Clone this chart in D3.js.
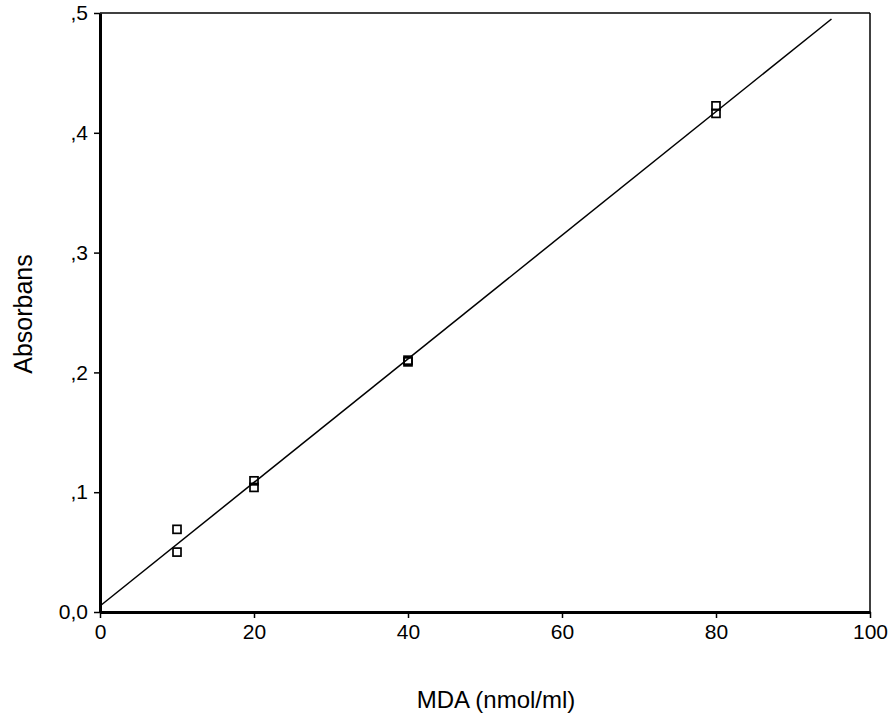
<!DOCTYPE html>
<html>
<head>
<meta charset="utf-8">
<script src="https://cdn.jsdelivr.net/npm/d3@7"></script>
<style>
  body { margin: 0; background: #fff; }
  text { font-family: "Liberation Sans", Arial, sans-serif; fill: #000; }
</style>
</head>
<body>
<div id="chart"></div>
<script>
// data
const mdaValues = [10, 10, 20, 20, 40, 40, 80, 80];
const absorbValues = [0.069, 0.050, 0.1095, 0.104, 0.2102, 0.2088, 0.4225, 0.4162];
const fitX = [0, 95];
const fitY = [0.005, 0.495];
const xTicks = [0, 20, 40, 60, 80, 100];
const yTicks = [0, 0.1, 0.2, 0.3, 0.4, 0.5];
const yTickLabels = ["0,0", ",1", ",2", ",3", ",4", ",5"];

function draw() {
  const dimensions = {
    width: 891,
    height: 722,
    margin: { top: 13, left: 100, right: 21, bottom: 110 },
    dotSize: 8,
  };
  const w = dimensions.width - dimensions.margin.left - dimensions.margin.right;
  const h = dimensions.height - dimensions.margin.top - dimensions.margin.bottom;

  const svg = d3
    .select("#chart")
    .append("svg")
    .attr("width", dimensions.width)
    .attr("height", dimensions.height);

  const ctr = svg
    .append("g")
    .attr("transform", `translate(${dimensions.margin.left}, ${dimensions.margin.top})`);

  const xScale = d3.scaleLinear().domain([0, 100]).range([0, w]);
  const yScale = d3.scaleLinear().domain([0, 0.5]).range([h, 0]);

  // frame: thin top/right
  ctr.append("line").attr("x1", 0).attr("x2", w).attr("y1", 0).attr("y2", 0)
    .attr("stroke", "#000").attr("stroke-width", 1.5);
  ctr.append("line").attr("x1", w).attr("x2", w).attr("y1", 0).attr("y2", h)
    .attr("stroke", "#000").attr("stroke-width", 1.5);

  // axes
  const xAxis = d3.axisBottom(xScale).tickValues(xTicks).tickSize(6).tickSizeOuter(0).tickPadding(6);
  const yAxis = d3.axisLeft(yScale).tickValues(yTicks).tickSize(6).tickSizeOuter(0).tickPadding(6)
    .tickFormat((d, i) => yTickLabels[i]);

  const xAxisGroup = ctr.append("g").attr("transform", `translate(0, ${h})`).call(xAxis);
  const yAxisGroup = ctr.append("g").call(yAxis);

  [xAxisGroup, yAxisGroup].forEach((g) => {
    g.select(".domain").attr("stroke-width", 3);
    g.selectAll(".tick line").attr("stroke-width", 1.5);
    g.selectAll(".tick text").style("font-size", "21px").attr("fill", "#000");
  });

  // regression line
  ctr.append("line")
    .attr("x1", xScale(fitX[0])).attr("y1", yScale(fitY[0]))
    .attr("x2", xScale(fitX[1])).attr("y2", yScale(fitY[1]))
    .attr("stroke", "#000").attr("stroke-width", 1.5);

  // points
  const s = dimensions.dotSize;
  ctr.selectAll("rect.pt")
    .data(mdaValues)
    .join("rect")
    .attr("class", "pt")
    .attr("x", (d) => xScale(d) - s / 2)
    .attr("y", (d, i) => yScale(absorbValues[i]) - s / 2)
    .attr("width", s)
    .attr("height", s)
    .attr("fill", "none")
    .attr("stroke", "#000")
    .attr("stroke-width", 1.7);

  // titles
  svg.append("text")
    .attr("x", 496)
    .attr("y", 708)
    .attr("text-anchor", "middle")
    .style("font-size", "24px")
    .text("MDA (nmol/ml)");

  svg.append("text")
    .attr("transform", "translate(32, 314) rotate(-90)")
    .attr("text-anchor", "middle")
    .style("font-size", "25px")
    .text("Absorbans");
}

draw();
</script>
</body>
</html>
